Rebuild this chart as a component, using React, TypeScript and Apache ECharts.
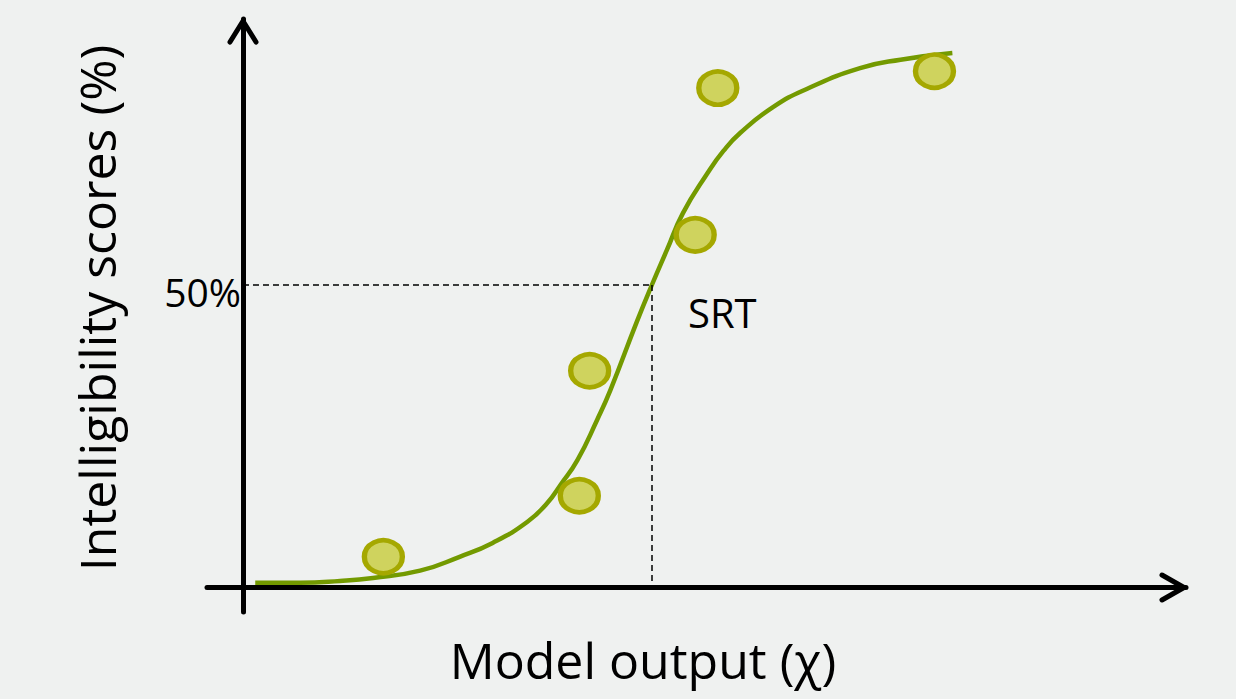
import React, { useEffect, useRef } from "react";
import * as echarts from "echarts";

// Observed data points (model output χ, intelligibility %)
const pointX = [14.9, 35.7, 36.8, 48.0, 50.4, 73.4];
const pointY = [5.0, 15.1, 35.8, 58.3, 82.6, 85.4];

// Fitted psychometric curve
const curveX = [1.3, 6.1, 10.3, 13.8, 18.8, 23.0, 26.5, 30.2, 32.3, 33.7, 35.5, 37.6, 39.0, 41.8, 43.4, 45.0, 46.7, 49.3, 51.0, 52.8, 56.3, 59.9, 65.5, 69.8, 75.3];
const curveY = [0.7, 0.7, 1.0, 1.5, 2.7, 5.0, 7.3, 10.8, 13.9, 16.9, 21.0, 27.7, 32.6, 43.9, 50.0, 55.8, 61.9, 68.5, 72.2, 75.2, 79.5, 82.5, 85.9, 87.3, 88.4];

// Speech reception threshold
const srtX = 43.4;
const srtY = 50;

const xLabel = "Model output (χ)";
const yLabel = "Intelligibility scores (%)";
const thresholdLabel = "50%";
const srtLabel = "SRT";

export default function App() {
  const ref = useRef<HTMLDivElement>(null);
  useEffect(() => {
    if (!ref.current) return;
    const chart = echarts.init(ref.current, null, { renderer: "svg" });
    const font = "'Open Sans', 'Noto Sans', sans-serif";
    chart.setOption({
      animation: false,
      backgroundColor: "#eff1f0",
      grid: { left: 207, right: 50, top: 19, bottom: 87 },
      xAxis: {
        type: "value",
        min: -3.82,
        max: 100.1,
        axisLine: { show: true, onZero: true, lineStyle: { color: "#000", width: 5 } },
        axisTick: { show: false },
        axisLabel: { show: false },
        splitLine: { show: false },
      },
      yAxis: {
        type: "value",
        min: -4.14,
        max: 94.04,
        axisLine: { show: true, onZero: true, lineStyle: { color: "#000", width: 5 } },
        axisTick: { show: false },
        axisLabel: { show: false },
        splitLine: { show: false },
      },
      series: [
        {
          type: "line",
          data: curveX.map((x, i) => [x, curveY[i]]),
          smooth: 0.5,
          showSymbol: false,
          lineStyle: { color: "#739a00", width: 4.5 },
          z: 3,
          markLine: {
            silent: true,
            symbol: "none",
            lineStyle: { color: "#000", width: 1.5, type: [6, 4] },
            label: { show: false },
            data: [
              [{ coord: [0, srtY] }, { coord: [srtX, srtY] }],
              [{ coord: [srtX, srtY] }, { coord: [srtX, 0] }],
            ],
          },
        },
        {
          type: "scatter",
          data: pointX.map((x, i) => [x, pointY[i]]),
          symbol: "circle",
          symbolSize: [38, 33],
          itemStyle: { color: "#cfd35e", borderColor: "#a5a800", borderWidth: 5, opacity: 1 },
          z: 4,
        },
      ],
      graphic: [
        {
          type: "polyline",
          shape: { points: [[230, 42], [243, 21], [256, 42]] },
          style: { stroke: "#000", lineWidth: 5, fill: null, lineCap: "round", lineJoin: "round" },
        },
        {
          type: "polyline",
          shape: { points: [[1162, 575], [1184, 587.5], [1162, 600]] },
          style: { stroke: "#000", lineWidth: 5, fill: null, lineCap: "round", lineJoin: "round" },
        },
        {
          type: "text",
          x: 241,
          y: 291,
          style: { text: thresholdLabel, font: `39px ${font}`, fill: "#000", align: "right", verticalAlign: "middle" },
        },
        {
          type: "text",
          x: 688,
          y: 312,
          style: { text: srtLabel, font: `40px ${font}`, fill: "#000", align: "left", verticalAlign: "middle" },
        },
        {
          type: "text",
          x: 643,
          y: 660,
          style: { text: xLabel, font: `50px ${font}`, fill: "#000", align: "center", verticalAlign: "middle" },
        },
        {
          type: "text",
          x: 97,
          y: 308,
          rotation: Math.PI / 2,
          style: { text: yLabel, font: `50px ${font}`, fill: "#000", align: "center", verticalAlign: "middle" },
        },
      ],
    });
    return () => chart.dispose();
  }, []);
  return (
    <div
      ref={ref}
      style={{ position: "fixed", left: 0, top: 0, width: 1236, height: 699 }}
    />
  );
}
